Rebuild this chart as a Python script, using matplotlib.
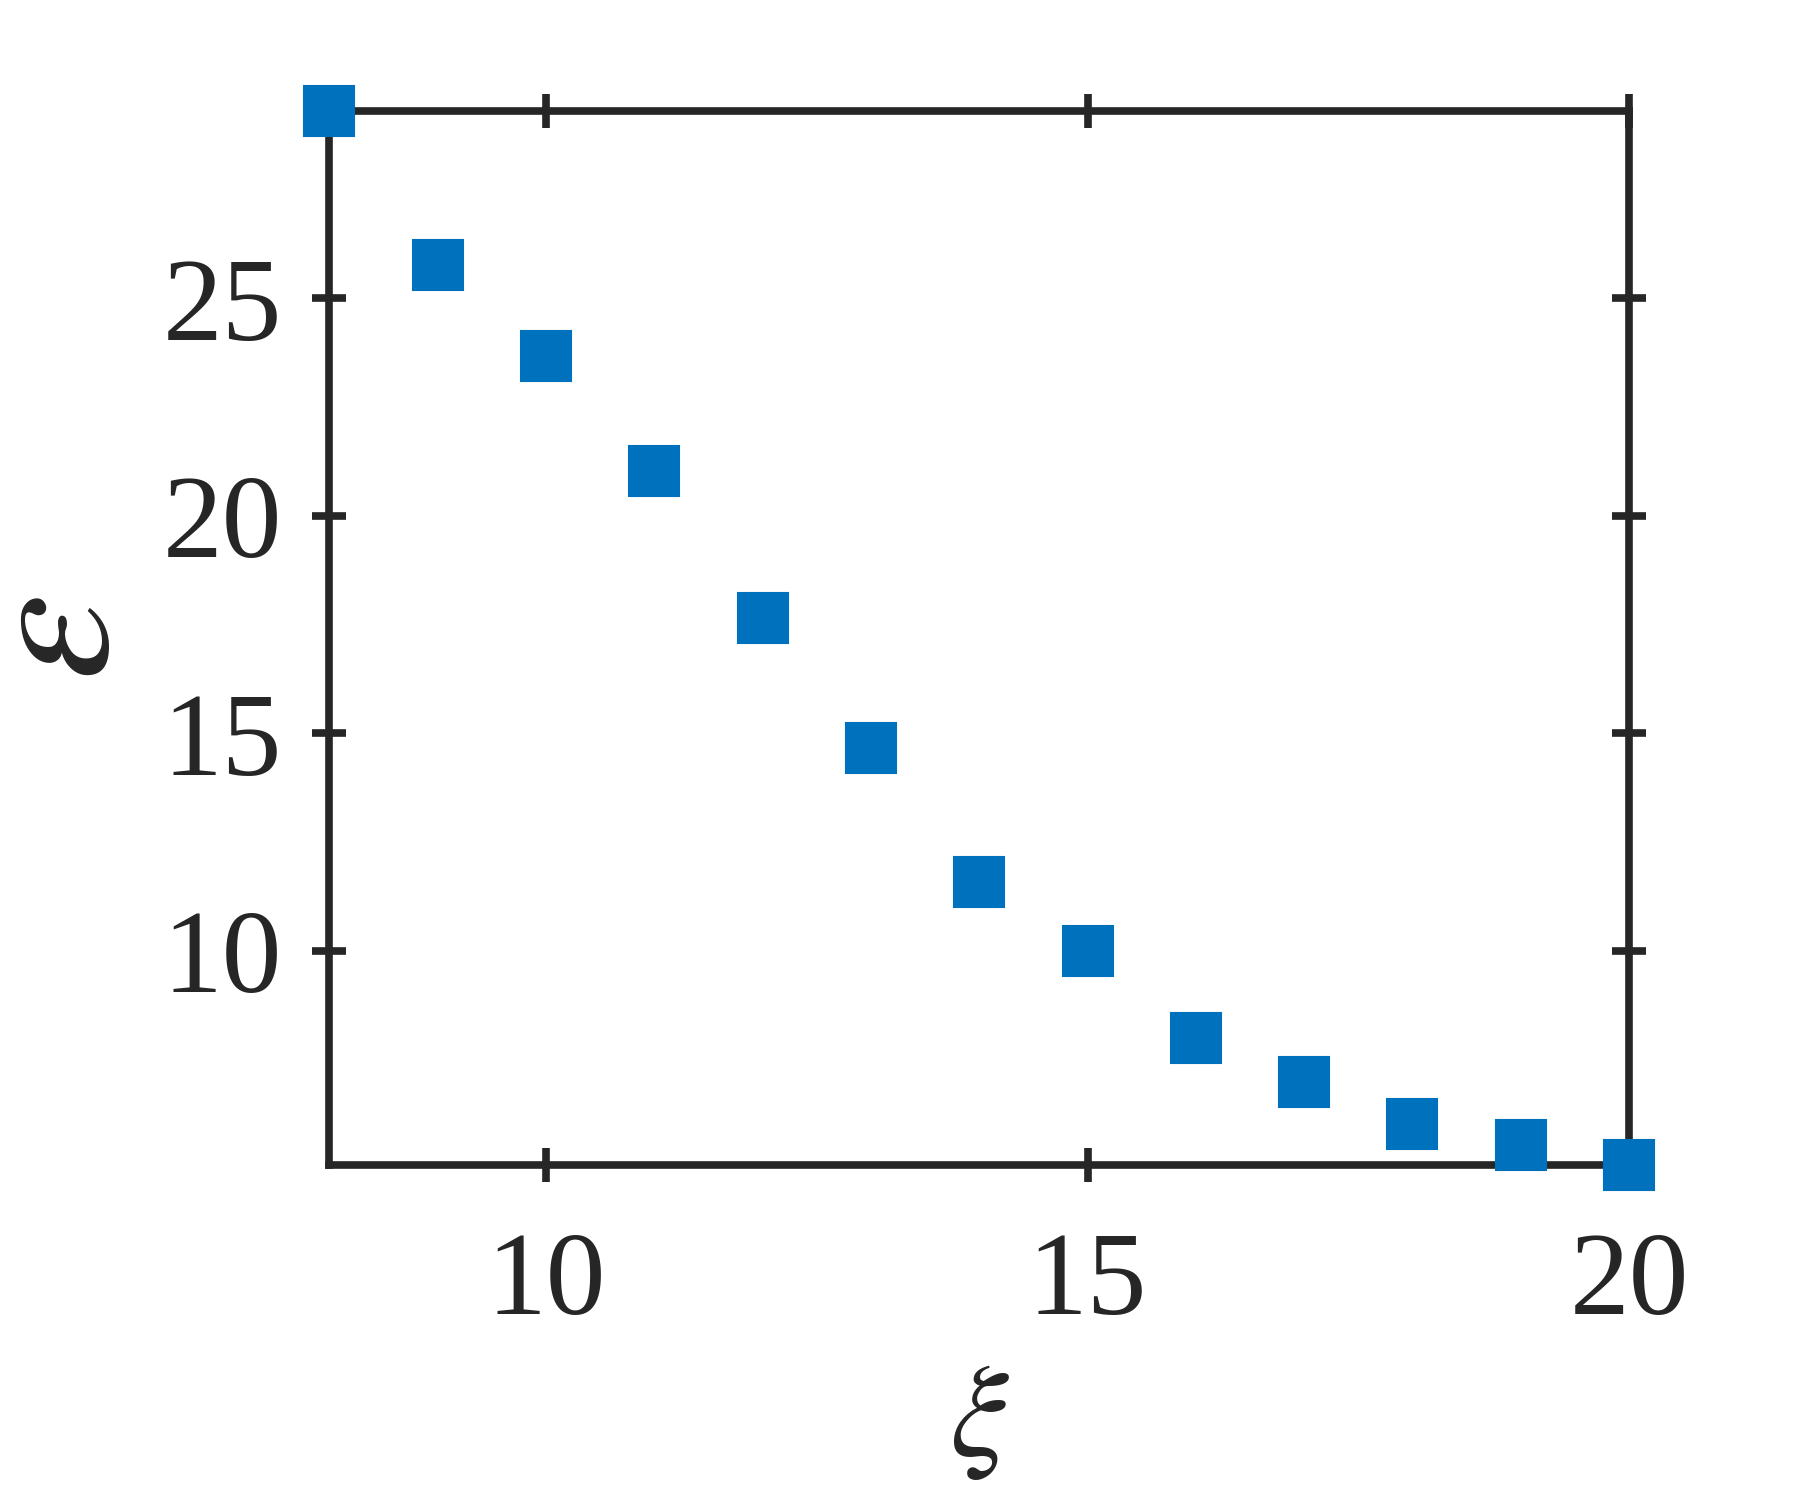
import matplotlib.pyplot as plt
import numpy as np

# values
xi = np.arange(8, 21)
eps = [29.3, 25.77, 23.68, 21.04, 17.65, 14.66, 11.58,
       10.0, 8.0, 6.97, 6.02, 5.54, 5.07]
x_ticks = [10, 15, 20]
y_ticks = [10, 15, 20, 25]

plt.rcParams["font.family"] = ["Liberation Serif", "DejaVu Serif"]
plt.rcParams["mathtext.fontset"] = "stix"

ink = "#262626"
blue = "#0072BD"

fig = plt.figure(figsize=(18, 15), dpi=100)
ax = fig.add_axes([0.183, 0.2233, 0.722, 0.7024])

ax.plot(xi, eps, "s", color=blue, markersize=36, markeredgewidth=1.5,
        markeredgecolor=blue, clip_on=False, zorder=5)

ax.set_xlim(8, 20)
ax.set_ylim(min(eps), max(eps))
ax.set_xticks(x_ticks)
ax.set_yticks(y_ticks)

for s in ax.spines.values():
    s.set_linewidth(5.5)
    s.set_color(ink)

ax.tick_params(axis="both", which="major", direction="inout", length=24,
               width=5.5, color=ink, labelcolor=ink, labelsize=86,
               top=True, right=True)
ax.tick_params(axis="x", pad=36)
ax.tick_params(axis="y", pad=22)

ax.set_xlabel(r"$\xi$", fontsize=95, color=ink, labelpad=18)
ax.set_ylabel(r"$\varepsilon$", fontsize=140, color=ink, labelpad=9)

fig.savefig("out.png", dpi=100, facecolor="white")
